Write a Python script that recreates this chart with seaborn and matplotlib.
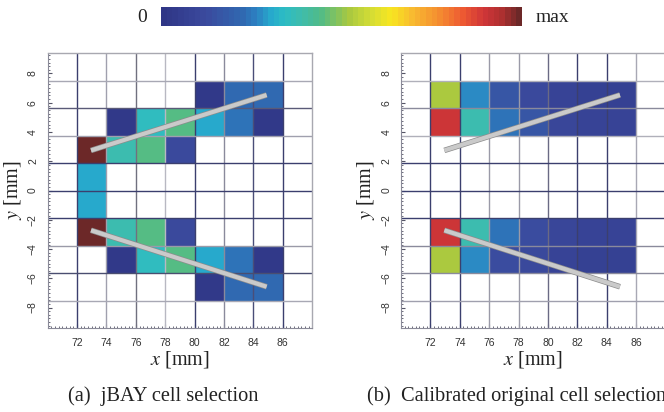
import numpy as np
import pandas as pd
import matplotlib
matplotlib.use("Agg")
import matplotlib.pyplot as plt
import matplotlib.patheffects as pe
from matplotlib.colors import LinearSegmentedColormap
import seaborn as sns

# ---- data -------------------------------------------------------------
x_edges = [72, 74, 76, 78, 80, 82, 84, 86]
y_edges = [-7.52, -5.64, -3.76, -1.88, 0.0, 1.88, 3.76, 5.64, 7.52]
x_ticks = [72, 74, 76, 78, 80, 82, 84, 86]
y_ticks = [-8, -6, -4, -2, 0, 2, 4, 6, 8]

# normalised cell signal, rows listed from top (y = 5.64..7.52) to bottom
jbay_cells = [
    [0.00, 0.00, 0.00, 0.00, 0.03, 0.22, 0.22],
    [0.00, 0.03, 0.35, 0.44, 0.30, 0.24, 0.03],
    [1.00, 0.38, 0.44, 0.12, 0.00, 0.00, 0.00],
    [0.30, 0.00, 0.00, 0.00, 0.00, 0.00, 0.00],
    [0.30, 0.00, 0.00, 0.00, 0.00, 0.00, 0.00],
    [1.00, 0.38, 0.44, 0.12, 0.00, 0.00, 0.00],
    [0.00, 0.03, 0.35, 0.44, 0.30, 0.24, 0.03],
    [0.00, 0.00, 0.00, 0.00, 0.03, 0.22, 0.22],
]
calibrated_cells = [
    [0.52, 0.27, 0.16, 0.11, 0.08, 0.07, 0.07],
    [0.90, 0.38, 0.24, 0.16, 0.10, 0.08, 0.08],
    [0.00, 0.00, 0.00, 0.00, 0.00, 0.00, 0.00],
    [0.00, 0.00, 0.00, 0.00, 0.00, 0.00, 0.00],
    [0.00, 0.00, 0.00, 0.00, 0.00, 0.00, 0.00],
    [0.90, 0.38, 0.24, 0.14, 0.10, 0.08, 0.08],
    [0.52, 0.27, 0.14, 0.11, 0.08, 0.07, 0.07],
    [0.00, 0.00, 0.00, 0.00, 0.00, 0.00, 0.00],
]

# beam track segments (x0, x1), (y0, y1)
upper_track_x = [72.95, 84.9]
upper_track_y = [2.74, 6.53]
lower_track_x = [72.95, 84.9]
lower_track_y = [-2.72, -6.58]

captions = ["(a)  jBAY cell selection", "(b)  Calibrated original cell selection"]

# ---- style ------------------------------------------------------------
sns.set_theme(style="white")
plt.rcParams["font.family"] = ["Liberation Serif", "DejaVu Serif"]
plt.rcParams["mathtext.fontset"] = "stix"

cmap = LinearSegmentedColormap.from_list("signal", [
    (0.00, "#2f3686"), (0.12, "#3b4a9e"), (0.22, "#3068b0"),
    (0.26, "#2c80c2"), (0.30, "#27a8cc"), (0.34, "#2cbcc4"),
    (0.38, "#3cbcb0"), (0.44, "#50bb88"), (0.52, "#a8c840"),
    (0.58, "#d2dc36"), (0.64, "#f8e620"), (0.70, "#f8ba30"),
    (0.77, "#f59030"), (0.84, "#ee5a32"), (0.90, "#cf3538"),
    (0.95, "#b03030"), (1.00, "#6c2828"),
]).resampled(64)

x_centers = [(a + b) / 2 for a, b in zip(x_edges[:-1], x_edges[1:])]
y_centers = [(a + b) / 2 for a, b in zip(y_edges[:-1], y_edges[1:])][::-1]


def cells_frame(grid):
    rows = []
    for yc, row in zip(y_centers, grid):
        for xc, v in zip(x_centers, row):
            rows.append({"x": xc, "y": yc, "v": v})
    return pd.DataFrame(rows)


v_colors = [
    ["#3b3f6e", "#a0a0ae", "#70707f", "#b8b8c2", "#3b3f6e", "#8a8a9c", "#4a4e78", "#3b3f6e"],
    ["#3b3f6e", "#3b3f6e", "#9a9aa8", "#9a9aa8", "#6a6a84", "#3b3f6e", "#3b3f6e", "#a8a8b4"],
]
h_colors = [
    ["#a8a8b4", "#5a5a78", "#a0a0ae", "#3b3f6e", "#3b3f6e", "#3b3f6e", "#9a9aa8", "#4a4e70", "#a8a8b4"][::-1],
    ["#b0b0ba", "#8a8a9c", "#b0b0ba", "#3b3f6e", "#3b3f6e", "#3b3f6e", "#8a8a9c", "#8a8a9c", "#a0a0ae"][::-1],
]

fig = plt.figure(figsize=(6.64, 4.12), dpi=100)
W, H = 664, 412
ax_left_px = [47.7, 401.0]
axes = []
for i, grid in enumerate([jbay_cells, calibrated_cells]):
    ax = fig.add_axes([ax_left_px[i] / W, 1 - 328 / H, 264.5 / W, 275 / H])
    axes.append(ax)
    sns.histplot(data=cells_frame(grid), x="x", y="y", weights="v",
                 bins=[x_edges, y_edges], cmap=cmap, vmin=0, vmax=1,
                 ax=ax, cbar=False)
    ax.vlines(x_edges, -9.4, 9.4, colors=v_colors[i], lw=1.0, zorder=2)
    ax.hlines(y_edges, 70, 88, colors=h_colors[i], lw=1.0, zorder=2)
    for tx, ty in [(upper_track_x, upper_track_y), (lower_track_x, lower_track_y)]:
        sns.lineplot(x=tx, y=ty, sort=False, ax=ax, color="#cacaca", lw=3.0,
                     zorder=4, solid_capstyle="butt",
                     path_effects=[pe.Stroke(linewidth=4.0, foreground="#8c8c8c"), pe.Normal()])
    ax.set_xlim(70, 88)
    ax.set_ylim(-9.4, 9.4)
    ax.set_xticks(x_ticks)
    ax.set_yticks(y_ticks)
    ax.set_xticks(np.arange(70, 88.01, 0.25), minor=True)
    ax.set_yticks(np.arange(-9.25, 9.4, 0.25), minor=True)
    ax.tick_params(which="major", direction="in", length=3, width=0.8, color="#555566",
                   labelsize=7.5, labelcolor="#333333", pad=7, left=True, bottom=True)
    ax.tick_params(which="minor", direction="in", length=1.5, width=0.6, color="#555566",
                   left=True, bottom=True)
    for lab in ax.get_xticklabels() + ax.get_yticklabels():
        lab.set_family(["Liberation Sans", "DejaVu Sans"])
    for lab in ax.get_yticklabels():
        lab.set_rotation(90)
        lab.set_va("center")
    ax.set_xlabel(r"$x$ [mm]", fontsize=14.5, labelpad=1, color="#222222")
    ax.set_ylabel(r"$y$ [mm]", fontsize=14.5, labelpad=3, color="#222222")
    for side in ["top", "right"]:
        ax.spines[side].set_color("#a8a8b0")
        ax.spines[side].set_linewidth(1.0)
    for side in ["left", "bottom"]:
        ax.spines[side].set_color("#8a8a98")
        ax.spines[side].set_linewidth(0.8)
    ax.set_facecolor("white")

# colour scale
cax = fig.add_axes([161 / W, 1 - 26 / H, 361 / W, 19 / H])
sm = plt.cm.ScalarMappable(cmap=cmap, norm=plt.Normalize(0, 1))
cb = fig.colorbar(sm, cax=cax, orientation="horizontal")
cb.outline.set_visible(False)
cax.xaxis.set_ticks_position("top")
cax.set_xticks([0.25, 0.5, 0.75])
cax.tick_params(axis="x", direction="in", length=5, width=0.8, color="#555555",
                labeltop=False, labelbottom=False)
fig.text(142 / W, 1 - 17 / H, "0", ha="center", va="center", fontsize=14, color="#222222")
fig.text(552 / W, 1 - 17 / H, "max", ha="center", va="center", fontsize=14, color="#222222")

fig.text(68 / W, 1 - 396 / H, captions[0], ha="left", va="center", fontsize=14.7, color="#222222")
fig.text(367 / W, 1 - 396 / H, captions[1], ha="left", va="center", fontsize=14.7, color="#222222")

fig.savefig("out.png", dpi=100)
